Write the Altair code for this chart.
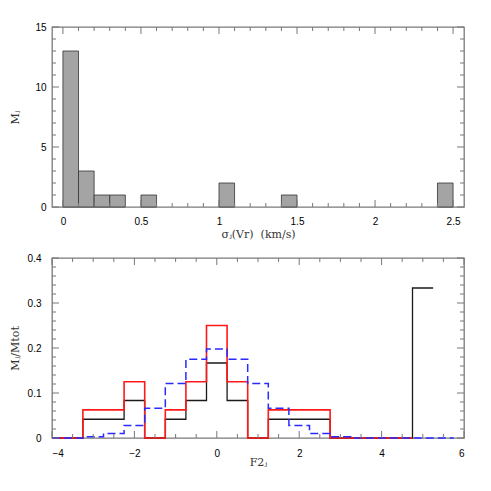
import altair as alt
import pandas as pd

# ---------------- data: top panel (histogram of sigma_j(Vr)) ----------------
sig_lo = [0.0, 0.1, 0.2, 0.3, 0.5, 1.0, 1.4, 2.4]
sig_hi = [0.1, 0.2, 0.3, 0.4, 0.6, 1.1, 1.5, 2.5]
sig_n = [13, 3, 1, 1, 1, 2, 1, 2]

# ---------------- data: bottom panel (M_j/Mtot vs F2_j, step lines) ----------------
black_x = [-4.0, -3.25, -2.25, -1.75, -1.25, -0.75, -0.25, 0.25, 0.75, 1.25, 2.75, 4.75, 5.25]
black_y = [0.0, 0.0417, 0.0833, 0.0, 0.0417, 0.0833, 0.1667, 0.0833, 0.0, 0.0417, 0.0, 0.3333, 0.3333]

red_x = [-4.0, -3.25, -2.25, -1.75, -1.25, -0.75, -0.25, 0.25, 0.75, 1.25, 2.75, 4.75]
red_y = [0.0, 0.0625, 0.125, 0.0, 0.0625, 0.125, 0.25, 0.125, 0.0, 0.0625, 0.0, 0.0]

blue_x = [-4.0, -3.25, -2.75, -2.25, -1.75, -1.25, -0.75, -0.25, 0.25, 0.75, 1.25, 1.75, 2.25, 2.75, 3.25, 5.75]
blue_y = [0.0, 0.003, 0.01, 0.028, 0.066, 0.121, 0.175, 0.198, 0.175, 0.121, 0.066, 0.028, 0.01, 0.003, 0.0, 0.0]

# ---------------- tick values ----------------
top_x_major = [0, 0.5, 1, 1.5, 2, 2.5]
top_x_minor = [0.1, 0.2, 0.3, 0.4, 0.6, 0.7, 0.8, 0.9, 1.1, 1.2, 1.3, 1.4,
               1.6, 1.7, 1.8, 1.9, 2.1, 2.2, 2.3, 2.4]
top_y_major = [0, 5, 10, 15]
top_y_minor = [1, 2, 3, 4, 6, 7, 8, 9, 11, 12, 13, 14]

bot_x_major = [-4, -2, 0, 2, 4, 6]
bot_x_minor = [-3.5, -3, -2.5, -1.5, -1, -0.5, 0.5, 1, 1.5, 2.5, 3, 3.5, 4.5, 5, 5.5]
bot_y_major = [0, 0.1, 0.2, 0.3, 0.4]
bot_y_minor = [0.02, 0.04, 0.06, 0.08, 0.12, 0.14, 0.16, 0.18, 0.22, 0.24, 0.26, 0.28,
               0.32, 0.34, 0.36, 0.38]

W, H = 412, 180
TICK = "#777777"
MAJ, MIN = 7, 4
LABEL_FONT = "Liberation Sans"
TITLE_FONT = "DejaVu Serif"


def axis(values, title, orient, pad, tx=None, ty=None):
    kw = dict(values=values, title=title, grid=False, ticks=False, domain=False,
              format="~g", labelFont=LABEL_FONT, labelFontSize=10, labelColor="black",
              labelPadding=pad, titleFont=TITLE_FONT, titleFontSize=11,
              titleFontWeight="normal", titleColor="#333333")
    if orient == "x":
        kw.update(labelBaseline="middle", titleY=ty, titleBaseline="alphabetic")
    else:
        kw.update(titleX=tx, titleBaseline="middle", labelAlign="right", labelBaseline="middle")
    return alt.Axis(**kw)


def tick_layers(xs, ys, xscale, yscale, xaxis, yaxis):
    layers = []
    for vals, size in xs:
        base = alt.Chart(pd.DataFrame({"v": vals}))
        ex = alt.X("v:Q", scale=xscale, axis=xaxis)
        layers.append(base.mark_rule(color=TICK, strokeWidth=1).encode(
            x=ex, y=alt.value(H), y2=alt.value(H - size)))
        layers.append(base.mark_rule(color=TICK, strokeWidth=1).encode(
            x=ex, y=alt.value(0), y2=alt.value(size)))
    for vals, size in ys:
        base = alt.Chart(pd.DataFrame({"v": vals}))
        ey = alt.Y("v:Q", scale=yscale, axis=yaxis)
        layers.append(base.mark_rule(color=TICK, strokeWidth=1).encode(
            y=ey, x=alt.value(0), x2=alt.value(size)))
        layers.append(base.mark_rule(color=TICK, strokeWidth=1).encode(
            y=ey, x=alt.value(W), x2=alt.value(W - size)))
    return layers


# ---------------- top panel ----------------
tx_scale = alt.Scale(domain=[-0.07, 2.57], nice=False, zero=False)
ty_scale = alt.Scale(domain=[0, 15], nice=False)
tx_axis = axis(top_x_major, "σⱼ(Vr)\u00a0\u00a0(km/s)", "x", 14, ty=30.5)
ty_axis = axis(top_y_major, "Mⱼ", "y", 6, tx=-37)

top_df = pd.DataFrame({"lo": sig_lo, "hi": sig_hi, "n": sig_n})
bars = alt.Chart(top_df).mark_rect(fill="#a4a4a4", stroke="#333333", strokeWidth=0.8).encode(
    x=alt.X("lo:Q", scale=tx_scale, axis=tx_axis),
    x2="hi:Q",
    y=alt.Y("n:Q", scale=ty_scale, axis=ty_axis),
    y2=alt.datum(0),
)
top = alt.layer(
    bars,
    *tick_layers([(top_x_major, MAJ), (top_x_minor, MIN)],
                 [(top_y_major, MAJ), (top_y_minor, MIN)], tx_scale, ty_scale,
                 tx_axis, ty_axis),
).properties(width=W, height=H)

# ---------------- bottom panel ----------------
bx_scale = alt.Scale(domain=[-4, 6], nice=False, zero=False)
by_scale = alt.Scale(domain=[0, 0.4], nice=False)
bx_axis = axis(bot_x_major, "F2ⱼ", "x", 15, ty=27)
by_axis = axis(bot_y_major, "Mⱼ/Mtot", "y", 11, tx=-37)


def step(xv, yv, color, width, dash=None):
    kw = dict(interpolate="step-after", color=color, strokeWidth=width)
    if dash:
        kw["strokeDash"] = dash
    return alt.Chart(pd.DataFrame({"x": xv, "y": yv})).mark_line(**kw).encode(
        x=alt.X("x:Q", scale=bx_scale, axis=bx_axis),
        y=alt.Y("y:Q", scale=by_scale, axis=by_axis),
        order="x:Q",
    )


bottom = alt.layer(
    step(black_x, black_y, "#1a1a1a", 1.3),
    step(red_x, red_y, "#ff1a1a", 1.6),
    step(blue_x, blue_y, "#2a2aff", 1.5, [8, 4]),
    *tick_layers([(bot_x_major, MAJ), (bot_x_minor, MIN)],
                 [(bot_y_major, MAJ), (bot_y_minor, MIN)], bx_scale, by_scale,
                 bx_axis, by_axis),
).properties(width=W, height=H)

chart = alt.vconcat(top, bottom, spacing=11).properties(
    padding={"top": 13, "left": 0, "right": 5, "bottom": 5},
    background="white",
).configure_view(stroke="#7a7a7a", strokeWidth=1.3)

chart.save("out.html", embed_options={"renderer": "svg", "actions": False})
